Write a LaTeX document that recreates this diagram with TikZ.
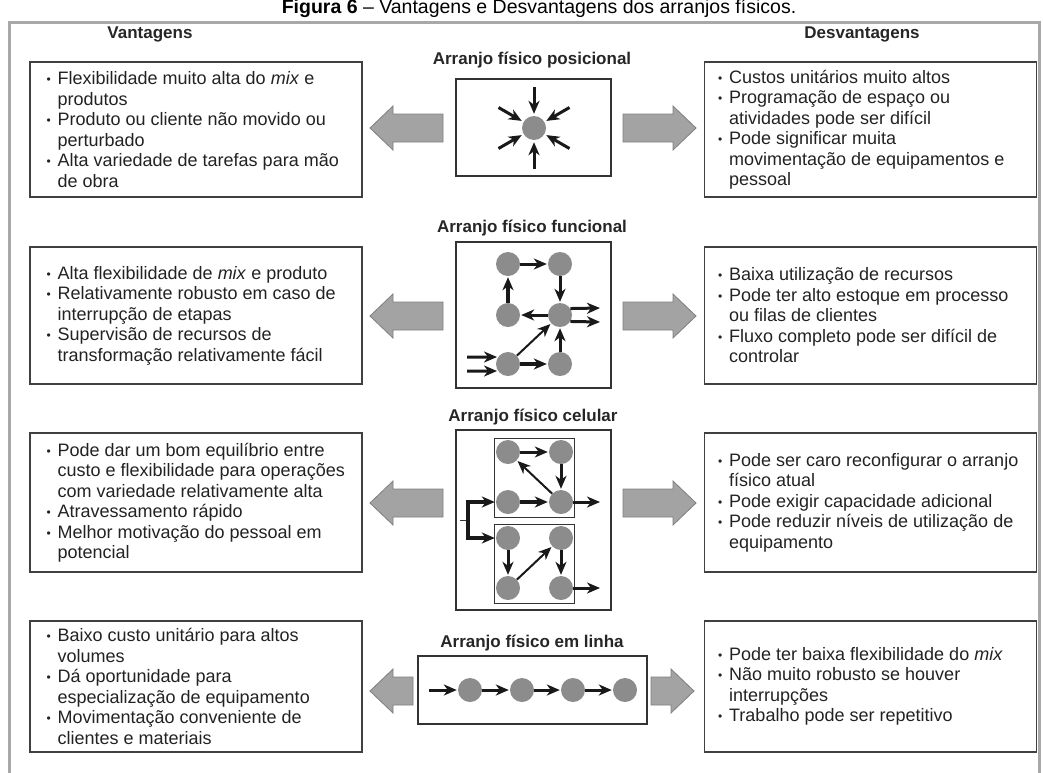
\documentclass[tikz,border=0pt]{standalone}
\usepackage{fontspec}
\setmainfont{Liberation Sans}
\usetikzlibrary{arrows.meta,positioning,calc}
\definecolor{stngray}{HTML}{8C8C8C}
\definecolor{arrgray}{HTML}{A3A3A3}
\definecolor{arredge}{HTML}{7F7F7F}
\definecolor{framegray}{HTML}{A8A8A8}
\definecolor{txt}{HTML}{222222}
\tikzset{
  stn/.style={circle,fill=stngray,minimum size=24pt,inner sep=0pt},
  flow/.style={draw=black!90,line width=3pt,-{Stealth[length=13pt,width=11pt,inset=4pt]},shorten >=1pt},
  thinflow/.style={flow,line width=2pt},
  thickflow/.style={flow,line width=3.6pt},
  panel/.style={draw=black!80,line width=1.2pt,fill=white},
  cell/.style={draw=black!80,line width=1pt},
  txtbox/.style={draw=black!75,line width=1.1pt,minimum width=332pt},
  txt/.style={align=left,inner sep=0pt,text=txt,font=\fontsize{18}{20.5}\selectfont},
  layout/.style={font=\bfseries\fontsize{17}{20}\selectfont,text=black!85},
  fatarrow/.style={fill=arrgray,draw=arredge,line width=0.8pt}
}
\newcommand{\bl}{\makebox[11pt][l]{\fontsize{12}{12}\selectfont\raisebox{1pt}{•}}}
\newcommand{\cont}{\hspace*{11pt}}
% tail x, tip x, y
\newcommand{\bigarrow}[3]{%
  \pgfmathsetmacro{\hx}{#2-23*(#2-#1)/abs(#2-#1)}
  \filldraw[fatarrow] (#1,{#3-14}) -- (\hx,{#3-14}) -- (\hx,{#3-22}) -- (#2,#3)
    -- (\hx,{#3+22}) -- (\hx,{#3+14}) -- (#1,{#3+14}) -- cycle;}
\begin{document}
\begin{tikzpicture}[x=1pt,y=-1pt]
\useasboundingbox (0,0) rectangle (1043,772);
\node[anchor=base,font=\fontsize{19.5}{21}\selectfont] (fig) at (539,13)
  {\textbf{Figura 6} – Vantagens e Desvantagens dos arranjos físicos.};
\draw[framegray,line width=3pt] (9,800) -- (9,22) -- (1039,22) -- (1039,800);
\node[layout] (hv) at (150,34) {Vantagens};
\node[layout] (hd) at (862,34) {Desvantagens};

% posicional
\node[layout] (t1) at (532,60) {Arranjo físico posicional};
\node[panel,minimum width=155pt,minimum height=97pt] (pbox) at (533.5,127.5) {};
\node[stn] (p0) at (534,128) {};
\foreach \a in {30,90,150,210,270,330}
{
    \coordinate (pin\a) at ($(p0)+(\a:41)$);
    \draw[flow,shorten >=2pt] (pin\a) -- (p0);
}
\node[txtbox,minimum height=135pt] (v1) at (196,129.5) {};
\node[txt,right=17pt of v1.west] (v1t) {%
\bl Flexibilidade muito alta do \textit{mix} e\\
\cont produtos\\
\bl Produto ou cliente não movido ou\\
\cont perturbado\\
\bl Alta variedade de tarefas para mão\\
\cont de obra};
\node[txtbox,minimum height=135pt] (d1) at (870.5,129.5) {};
\node[txt,right=14pt of d1.west] (d1t) {%
\bl Custos unitários muito altos\\
\bl Programação de espaço ou\\
\cont atividades pode ser difícil\\
\bl Pode significar muita\\
\cont movimentação de equipamentos e\\
\cont pessoal};
\bigarrow{443}{370}{128}
\bigarrow{623}{696}{128}

% funcional
\node[layout] (t2) at (532,228) {Arranjo físico funcional};
\node[panel,minimum width=155pt,minimum height=146pt] (fbox) at (533.5,315) {};
\node[stn] (f1) at (508,264) {};
\node[stn] (f2) at (560,264) {};
\node[stn] (f3) at (508,315) {};
\node[stn] (f4) at (560,315) {};
\node[stn] (f5) at (508,364) {};
\node[stn] (f6) at (560,364) {};
\coordinate (fo1) at (601,308);
\coordinate (fo2) at (601,322);
\coordinate (fi1) at (467,357);
\coordinate (fi2) at (467,371);
\draw[flow] (f1) -- (f2);
\draw[flow] (f2) -- (f4);
\draw[flow] (f4) -- (f3);
\draw[thickflow] (f3) -- (f1);
\draw[thickflow] (f5) -- (f6);
\draw[flow] (f6) -- (f4);
\draw[thinflow] (f5) -- (f4);
\draw[flow] (f4.32) -- (fo1);
\draw[flow] (f4.-32) -- (fo2);
\draw[flow] (fi1) -- (f5.145);
\draw[flow] (fi2) -- (f5.215);
\node[txtbox,minimum height=137pt] (v2) at (196,315.5) {};
\node[txt,right=17pt of v2.west] (v2t) {%
\bl Alta flexibilidade de \textit{mix} e produto\\
\bl Relativamente robusto em caso de\\
\cont interrupção de etapas\\
\bl Supervisão de recursos de\\
\cont transformação relativamente fácil};
\node[txtbox,minimum height=137pt] (d2) at (870.5,315.5) {};
\node[txt,right=14pt of d2.west] (d2t) {%
\bl Baixa utilização de recursos\\
\bl Pode ter alto estoque em processo\\
\cont ou filas de clientes\\
\bl Fluxo completo pode ser difícil de\\
\cont controlar};
\bigarrow{443}{370}{316}
\bigarrow{623}{696}{316}

% celular
\node[layout] (t3) at (533,417) {Arranjo físico celular};
\node[panel,minimum width=155pt,minimum height=180pt] (cbox) at (533.5,520) {};
\node[cell,minimum width=80pt,minimum height=79pt] (cell1) at (534,477.5) {};
\node[cell,minimum width=80pt,minimum height=79pt] (cell2) at (534,563.5) {};
\node[stn] (c1) at (508,452) {};
\node[stn] (c2) at (561,452) {};
\node[stn] (c3) at (508,502) {};
\node[stn] (c4) at (561,502) {};
\node[stn] (e1) at (508,538) {};
\node[stn] (e2) at (561,538) {};
\node[stn] (e3) at (508,588) {};
\node[stn] (e4) at (561,588) {};
\coordinate (cs) at (460,520);
\coordinate (cj) at (468,520);
\coordinate (co1) at (601,502);
\coordinate (co2) at (601,588);
\draw[line width=1pt,black!80] (cs) -- (cj);
\draw[thickflow] (cj) |- (c3);
\draw[thickflow] (cj) |- (e1);
\draw[flow] (c1) -- (c2);
\draw[flow] (c2) -- (c4);
\draw[thinflow] (c4) -- (c1);
\draw[thickflow] (c3) -- (c4);
\draw[flow] (c4) -- (co1);
\draw[flow] (e1) -- (e3);
\draw[thinflow] (e3) -- (e2);
\draw[flow] (e2) -- (e4);
\draw[flow] (e4) -- (co2);
\node[txtbox,minimum height=139pt] (v3) at (196,502.5) {};
\node[txt,right=17pt of v3.west] (v3t) {%
\bl Pode dar um bom equilíbrio entre\\
\cont custo e flexibilidade para operações\\
\cont com variedade relativamente alta\\
\bl Atravessamento rápido\\
\bl Melhor motivação do pessoal em\\
\cont potencial};
\node[txtbox,minimum height=139pt] (d3) at (870.5,502.5) {};
\node[txt,right=14pt of d3.west] (d3t) {%
\bl Pode ser caro reconfigurar o arranjo\\
\cont físico atual\\
\bl Pode exigir capacidade adicional\\
\bl Pode reduzir níveis de utilização de\\
\cont equipamento};
\bigarrow{443}{370}{503}
\bigarrow{623}{696}{503}

% em linha
\node[layout] (t4) at (532,643) {Arranjo físico em linha};
\node[panel,minimum width=229pt,minimum height=68pt] (lbox) at (532.5,690) {};
\coordinate (li) at (429,690);
\foreach \i/\x in {1/470,2/522,3/573,4/625}
{
    \node[stn] (l\i) at (\x,690) {};
}
\draw[flow] (li) -- (l1);
\draw[flow] (l1) -- (l2);
\draw[flow] (l2) -- (l3);
\draw[flow] (l3) -- (l4);
\node[txtbox,minimum height=131pt] (v4) at (196,686.5) {};
\node[txt,right=17pt of v4.west] (v4t) {%
\bl Baixo custo unitário para altos\\
\cont volumes\\
\bl Dá oportunidade para\\
\cont especialização de equipamento\\
\bl Movimentação conveniente de\\
\cont clientes e materiais};
\node[txtbox,minimum height=131pt] (d4) at (870.5,686.5) {};
\node[txt,right=14pt of d4.west] (d4t) {%
\bl Pode ter baixa flexibilidade do \textit{mix}\\
\bl Não muito robusto se houver\\
\cont interrupções\\
\bl Trabalho pode ser repetitivo};
\bigarrow{413}{370}{691}
\bigarrow{651}{694}{691}
\end{tikzpicture}
\end{document}
